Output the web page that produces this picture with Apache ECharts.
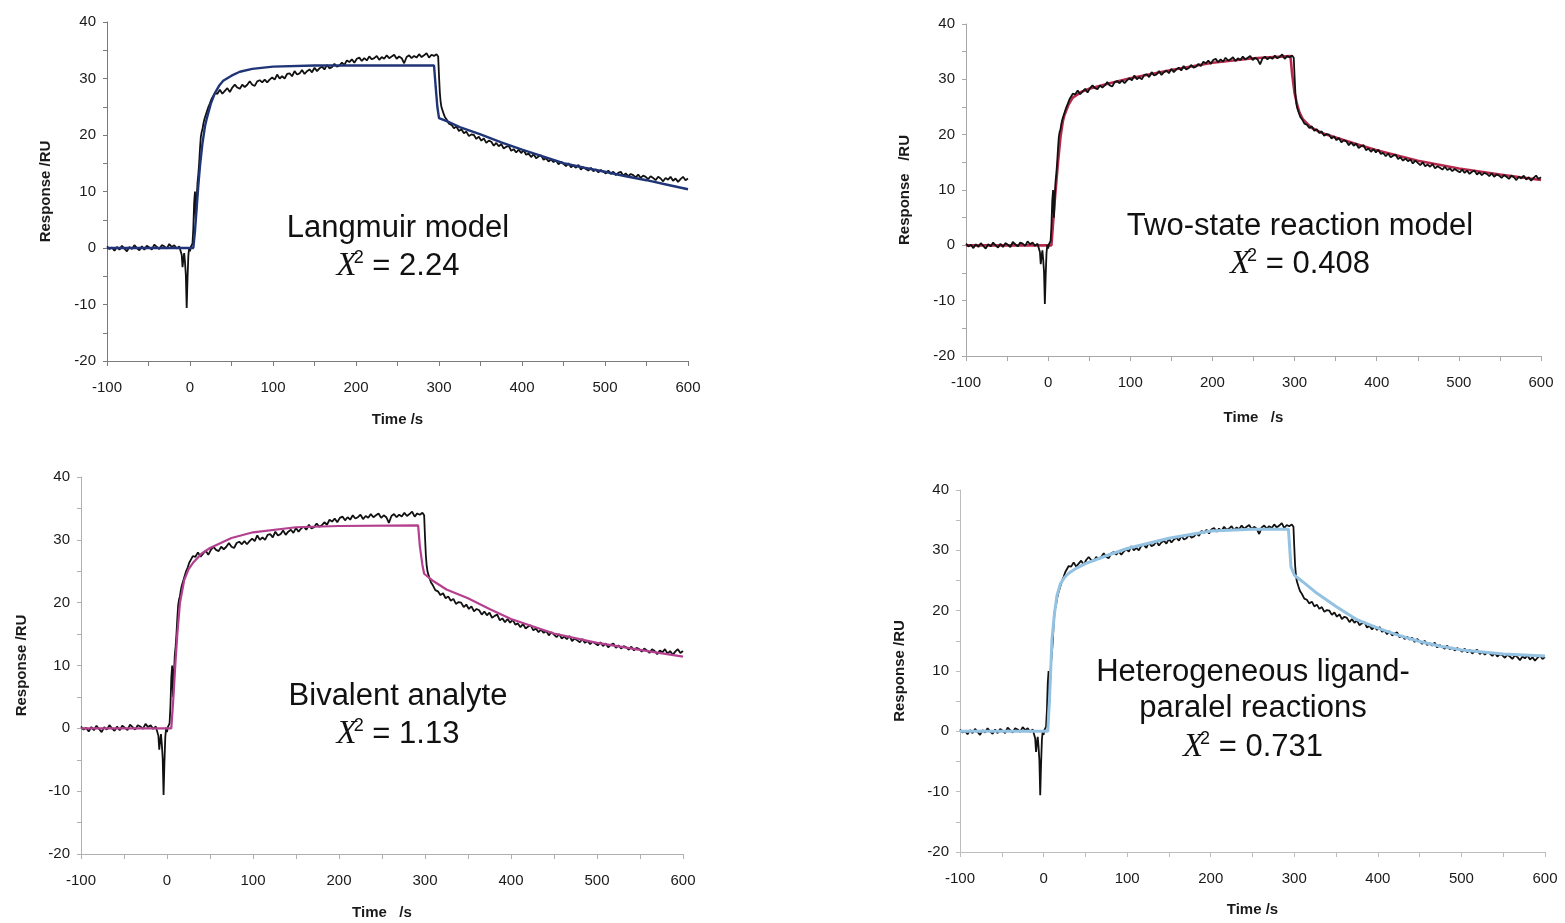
<!DOCTYPE html>
<html>
<head>
<meta charset="utf-8">
<title>SPR sensorgram fits</title>
<script src="https://cdn.jsdelivr.net/npm/echarts@6/dist/echarts.min.js"></script>
<style>
  html, body { margin: 0; padding: 0; background: #fff; }
  #chart { width: 1565px; height: 923px; }
</style>
</head>
<body>
<div id="chart"></div>
<script>
// Measured sensorgram: [time (s), response (RU)]
const measured = [
  [-100,0.3],[-97,-0.2],[-94,0.1],[-91,-0.5],[-88,0.2],[-85,-0.3],[-82,0.4],[-79,-0.1],[-76,-0.6],[-73,0.2],
  [-70,-0.2],[-67,0.5],[-64,0.0],[-61,-0.4],[-58,0.3],[-55,-0.3],[-52,0.4],[-49,0.1],[-46,-0.3],[-43,0.6],
  [-40,0.2],[-37,-0.2],[-34,0.5],[-31,0.3],[-28,-0.1],[-25,0.7],[-22,0.2],[-19,0.5],[-16,-0.1],[-13,0.3],
  [-11,0.1],[-10,-1.2],[-9,-3.4],[-8,-2.0],[-7,-0.9],[-6,-2.6],[-5,-4.8],[-4,-10.6],[-3,-5.5],[-2,-1.4],
  [-1,0.1],[0,-0.6],[1,0.2],[2,0.4],[3,0.8],[4,3.5],[5,8.0],[6,10.0],[7,5.0],[8,8.5],
  [9,11.5],[10,13.0],[11,15.0],[12,17.5],[13,19.6],[14,20.5],[15,21.0],[16,21.9],[17,22.6],[18,23.1],
  [20,24.0],[22,24.9],[24,25.6],[26,26.4],[28,26.9],[30,27.4],[33,27.3],[36,28.0],[39,27.3],[42,27.8],
  [45,28.3],[48,27.6],[51,28.4],[54,28.9],[57,28.4],[60,28.2],[63,28.9],[66,28.5],[69,28.9],[72,29.5],
  [75,28.9],[78,28.7],[81,29.5],[84,29.7],[87,29.3],[90,29.8],[93,29.3],[96,29.8],[99,30.2],[102,29.8],
  [105,30.7],[108,30.0],[111,30.4],[114,30.0],[117,30.8],[120,30.9],[123,30.4],[126,31.3],[129,30.7],[132,30.9],
  [135,31.5],[138,30.8],[141,31.3],[144,31.6],[147,31.1],[150,31.9],[153,31.3],[156,31.8],[159,32.1],[162,31.6],
  [165,32.4],[168,31.8],[171,32.0],[174,32.6],[177,32.1],[180,32.3],[183,32.8],[186,32.4],[189,33.2],[192,32.9],
  [195,33.4],[198,32.8],[201,33.5],[204,33.7],[207,33.1],[210,33.6],[213,33.2],[216,33.9],[219,33.4],[222,33.6],
  [225,34.0],[228,33.3],[231,33.8],[234,33.5],[237,34.1],[240,33.6],[243,33.9],[246,34.2],[249,33.5],[252,33.9],
  [255,33.6],[258,32.7],[261,33.8],[264,34.1],[267,33.6],[270,34.0],[273,33.7],[276,34.3],[279,33.8],[282,34.1],
  [285,34.5],[288,33.7],[291,34.2],[294,34.0],[297,34.3],[299,33.9],[300,30.5],[301,27.5],[302,25.8],[303,24.9],
  [305,24.0],[307,23.2],[309,22.8],[312,22.0],[315,21.8],[318,21.2],[321,21.5],[324,20.7],[327,21.0],[330,20.3],
  [333,20.6],[336,19.8],[339,20.1],[342,20.0],[345,19.3],[348,19.7],[351,19.0],[354,19.4],[357,18.6],[360,19.0],
  [363,18.8],[366,18.1],[369,18.6],[372,18.0],[375,18.4],[378,17.6],[381,17.9],[384,18.1],[387,17.2],[390,17.5],
  [393,16.9],[396,17.4],[399,16.8],[402,17.3],[405,16.5],[408,16.7],[411,16.1],[414,16.6],[417,15.9],[420,16.2],
  [423,16.4],[426,15.6],[429,15.9],[432,15.3],[435,15.7],[438,15.2],[441,15.5],[444,14.8],[447,15.3],[450,14.9],
  [453,14.5],[456,15.0],[459,14.3],[462,14.6],[465,14.2],[468,14.7],[471,13.9],[474,14.3],[477,14.0],[480,13.7],
  [483,14.2],[486,13.6],[489,13.9],[492,13.4],[495,13.8],[498,13.5],[501,13.2],[504,13.7],[507,13.1],[510,13.5],
  [513,12.9],[516,13.3],[519,13.5],[522,12.8],[525,13.2],[528,12.7],[531,13.1],[534,12.9],[537,12.5],[540,13.0],
  [543,12.4],[546,12.8],[549,12.6],[552,12.2],[555,12.7],[558,12.4],[561,12.0],[564,12.6],[567,12.3],[570,11.8],
  [573,12.4],[576,12.1],[579,12.6],[582,11.9],[585,12.3],[588,11.7],[591,12.2],[594,12.6],[597,12.0],[600,12.3]
];

// Model fits: [time (s), response (RU)]
const langmuirFit = [
  [-100,0],[4,0],[6,3],[8,7],[10,11],[12,14.5],[15,18.5],[18,21.5],[20,22.8],[25,25.5],[30,27.4],[35,28.7],
  [40,29.6],[50,30.5],[60,31.2],[75,31.7],[100,32.1],[150,32.3],[294,32.3],[296,28.5],[298,25.0],[300,23.0],
  [310,22.4],[325,21.4],[350,20.1],[375,18.7],[400,17.4],[425,16.2],[450,15.0],[475,14.2],[500,13.5],
  [525,12.7],[550,12.0],[575,11.2],[600,10.4]
];
const twoStateFit = [
  [-100,0],[4,0],[6,4],[8,8],[10,11.5],[12,15],[15,19.5],[18,22.5],[20,23.6],[25,25.5],[30,26.7],[40,27.7],
  [50,28.3],[75,29.3],[100,30.2],[150,31.7],[200,33.0],[250,33.8],[295,34.2],[297,31.0],[300,27.5],[303,25.5],
  [306,24.0],[310,22.8],[320,21.3],[335,20.2],[350,19.5],[375,18.3],[400,17.2],[450,15.3],[500,13.9],
  [550,12.8],[600,11.8]
];
const bivalentFit = [
  [-100,0],[5,0],[7,4],[10,10.9],[12,15],[15,19.9],[20,23.6],[25,25.3],[30,26.3],[40,27.8],[50,28.7],
  [75,30.3],[100,31.2],[150,32.0],[200,32.2],[292,32.3],[294,29.0],[297,26.0],[299,24.6],[310,23.4],
  [325,22.1],[350,20.7],[375,19.0],[400,17.4],[450,15.1],[500,13.6],[550,12.5],[600,11.4]
];
const heteroFit = [
  [-100,0],[5,0],[7,5],[10,15.1],[13,19.5],[16,22.5],[20,24.4],[25,25.5],[30,26.2],[40,27.1],[50,27.8],
  [75,29.1],[100,30.3],[150,32.0],[200,33.2],[250,33.5],[293,33.5],[296,27.3],[300,25.9],[310,24.8],
  [325,23.1],[350,20.7],[375,18.5],[400,17.1],[425,15.9],[450,14.9],[475,14.1],[500,13.5],[550,12.8],[600,12.5]
];

const modelNames = ['Langmuir model', 'Two-state reaction model', 'Bivalent analyte', 'Heterogeneous ligand-\nparalel reactions'];
const chiSquared = ['2.24', '0.408', '1.13', '0.731'];
const xTitles = ['Time /s', 'Time   /s', 'Time   /s', 'Time /s'];
const yTitles = ['Response /RU', 'Response   /RU', 'Response /RU', 'Response /RU'];

const fits = [langmuirFit, twoStateFit, bivalentFit, heteroFit];
const fitColors = ['#1f3577', '#b52a4c', '#b43f8e', '#93c2e2'];
const fitWidths = [2.4, 2.6, 2.2, 3.0];
const fitOnTop = [true, false, true, true];

const grids = [
  { left: 107, top: 22, width: 581, height: 339 },
  { left: 966, top: 24, width: 575, height: 332 },
  { left: 81, top: 477, width: 602, height: 377 },
  { left: 960, top: 490, width: 585, height: 362 }
];
const axisColors = ['#7a7a7a', '#a8a8a8', '#b0b0b0', '#bdbdbd'];
const xNameGap = [51, 54, 51, 50];
const yNameGap = [54, 54, 52, 53];

const labelFont = { fontFamily: 'Liberation Sans, Arial, sans-serif', fontSize: 15, color: '#1a1a1a' };
const titleFont = { fontFamily: 'Liberation Sans, Arial, sans-serif', fontSize: 15, fontWeight: 'bold', color: '#1a1a1a' };

const xAxes = grids.map((g, i) => ({
  type: 'value', gridIndex: i, min: -100, max: 600, interval: 100,
  name: xTitles[i], nameLocation: 'middle', nameGap: xNameGap[i], nameTextStyle: titleFont,
  axisLine: { onZero: false, lineStyle: { color: axisColors[i], width: 1 } },
  axisTick: { show: true, inside: false, length: 5, lineStyle: { color: axisColors[i] } },
  minorTick: { show: true, splitNumber: 2, length: 5, lineStyle: { color: axisColors[i] } },
  axisLabel: Object.assign({ margin: 19 }, labelFont),
  splitLine: { show: false }
}));
const yAxes = grids.map((g, i) => ({
  type: 'value', gridIndex: i, min: -20, max: 40, interval: 10,
  name: yTitles[i], nameLocation: 'middle', nameGap: yNameGap[i], nameTextStyle: titleFont,
  axisLine: { onZero: false, lineStyle: { color: axisColors[i], width: 1 } },
  axisTick: { show: true, length: 4, lineStyle: { color: axisColors[i] } },
  minorTick: { show: true, splitNumber: 2, length: 4, lineStyle: { color: axisColors[i] } },
  axisLabel: Object.assign({ margin: 11 }, labelFont),
  splitLine: { show: false }
}));

const series = [];
grids.forEach((g, i) => {
  const dataLine = {
    type: 'line', xAxisIndex: i, yAxisIndex: i, data: measured, showSymbol: false,
    lineStyle: { color: '#111', width: 1.8 }, z: fitOnTop[i] ? 2 : 3, silent: true
  };
  const fitLine = {
    type: 'line', xAxisIndex: i, yAxisIndex: i, data: fits[i], showSymbol: false,
    lineStyle: { color: fitColors[i], width: fitWidths[i] }, z: fitOnTop[i] ? 3 : 2, silent: true
  };
  series.push(dataLine, fitLine);
});

// Model name and chi-squared annotations
const annotationPos = [
  { x: 398, y: 226, chiY: 264 },
  { x: 1300, y: 224, chiY: 262 },
  { x: 398, y: 694, chiY: 732 },
  { x: 1253, y: 688, chiY: 745 }
];
const graphics = [];
annotationPos.forEach((p, i) => {
  graphics.push({
    type: 'text', x: p.x, y: p.y + 2, silent: true,
    style: {
      text: modelNames[i], align: 'center', verticalAlign: 'middle',
      fontFamily: 'Liberation Sans, Arial, sans-serif', fontSize: 31, lineHeight: 36, fill: '#111'
    }
  });
  graphics.push({
    type: 'text', x: p.x, y: p.chiY + 2, silent: true,
    style: {
      text: '{x|X}{s|2}{n| = ' + chiSquared[i] + '}', align: 'center', verticalAlign: 'middle',
      rich: {
        x: { fontFamily: 'Liberation Serif, Times New Roman, serif', fontStyle: 'italic', fontSize: 33, fill: '#111', lineHeight: 34 },
        s: { fontFamily: 'Liberation Sans, Arial, sans-serif', fontSize: 18, fill: '#111', verticalAlign: 'top', lineHeight: 30, padding: [0, 0, 0, -3] },
        n: { fontFamily: 'Liberation Sans, Arial, sans-serif', fontSize: 31, fill: '#111', lineHeight: 34 }
      }
    }
  });
});

const chart = echarts.init(document.getElementById('chart'), null, { renderer: 'canvas' });
chart.setOption({
  animation: false,
  backgroundColor: '#ffffff',
  grid: grids.map(g => Object.assign({ containLabel: false }, g)),
  xAxis: xAxes,
  yAxis: yAxes,
  series: series,
  graphic: graphics
});
</script>
</body>
</html>
